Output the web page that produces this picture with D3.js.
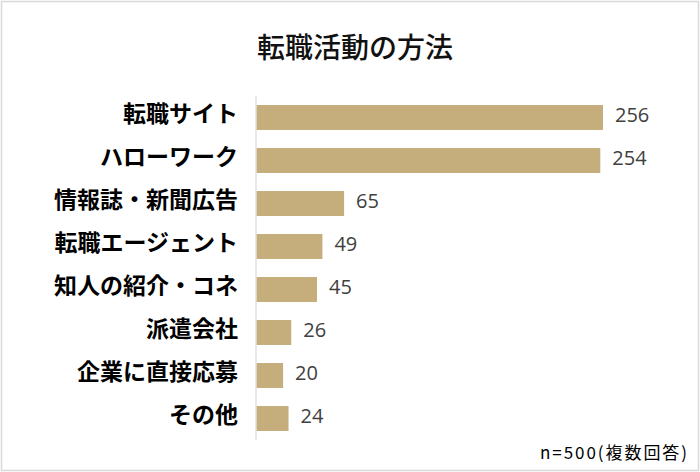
<!DOCTYPE html>
<html>
<head>
<meta charset="utf-8">
<script src="https://cdn.jsdelivr.net/npm/d3@7"></script>
<style>
  body { margin: 0; background: #fff; }
  svg { display: block; }
</style>
</head>
<body>
<svg id="chart" width="700" height="472"></svg>
<script>
const categories = ["転職サイト", "ハローワーク", "情報誌・新聞広告", "転職エージェント",
                    "知人の紹介・コネ", "派遣会社", "企業に直接応募", "その他"];
const counts = [256, 254, 65, 49, 45, 26, 20, 24];
const title = "転職活動の方法";
const note = "n=500(複数回答)";

const width = 700, height = 472;
const margin = { top: 96, left: 256, bottom: 32 };
const barColor = "#c5ae7c";

const svg = d3.select("#chart");

// outer frame
svg.append("rect")
    .attr("x", 1.5).attr("y", 1.5)
    .attr("width", width - 3).attr("height", height - 3)
    .attr("fill", "#fff")
    .attr("stroke", "#d9d9d9")
    .attr("stroke-width", 1.5);

const x = d3.scaleLinear()
    .domain([0, d3.max(counts)])
    .range([margin.left, 603]);

const y = d3.scaleBand()
    .domain(categories)
    .range([margin.top, height - margin.bottom])
    .paddingInner(0.42)
    .paddingOuter(0.21);

// title
svg.append("text")
    .attr("x", 355).attr("y", 58)
    .attr("text-anchor", "middle")
    .style("font-family", "'Noto Sans CJK JP', sans-serif")
    .style("font-size", "28px")
    .style("font-weight", 500)
    .attr("fill", "#111")
    .text(title);

// bars
svg.append("g")
    .selectAll("rect")
    .data(counts)
    .join("rect")
    .attr("x", x(0))
    .attr("y", (d, i) => y(categories[i]))
    .attr("width", d => x(d) - x(0))
    .attr("height", y.bandwidth())
    .attr("fill", barColor);

// vertical axis line
svg.append("line")
    .attr("x1", x(0)).attr("x2", x(0))
    .attr("y1", margin.top).attr("y2", height - margin.bottom)
    .attr("stroke", "#e0e0e0")
    .attr("stroke-width", 1.5);

// category labels
svg.append("g")
    .selectAll("text")
    .data(categories)
    .join("text")
    .attr("x", 238)
    .attr("y", d => y(d) + y.bandwidth() / 2 - 4)
    .attr("dy", "0.36em")
    .attr("text-anchor", "end")
    .style("font-family", "'Noto Sans CJK JP', sans-serif")
    .style("font-size", "23px")
    .style("font-weight", 700)
    .attr("fill", "#000")
    .text(d => d);

// value labels
svg.append("g")
    .selectAll("text")
    .data(counts)
    .join("text")
    .attr("x", d => x(d) + 12)
    .attr("y", (d, i) => y(categories[i]) + y.bandwidth() / 2 - 3)
    .attr("dy", "0.36em")
    .style("font-family", "'Open Sans', sans-serif")
    .style("font-size", "20px")
    .attr("fill", "#404040")
    .text(d => d);

// footnote
svg.append("text")
    .attr("x", 540).attr("y", 459)
    .attr("textLength", 147)
    .attr("lengthAdjust", "spacing")
    .style("font-family", "'Noto Sans CJK JP', sans-serif")
    .style("font-size", "17px")
    .attr("fill", "#000")
    .text(note);
</script>
</body>
</html>
